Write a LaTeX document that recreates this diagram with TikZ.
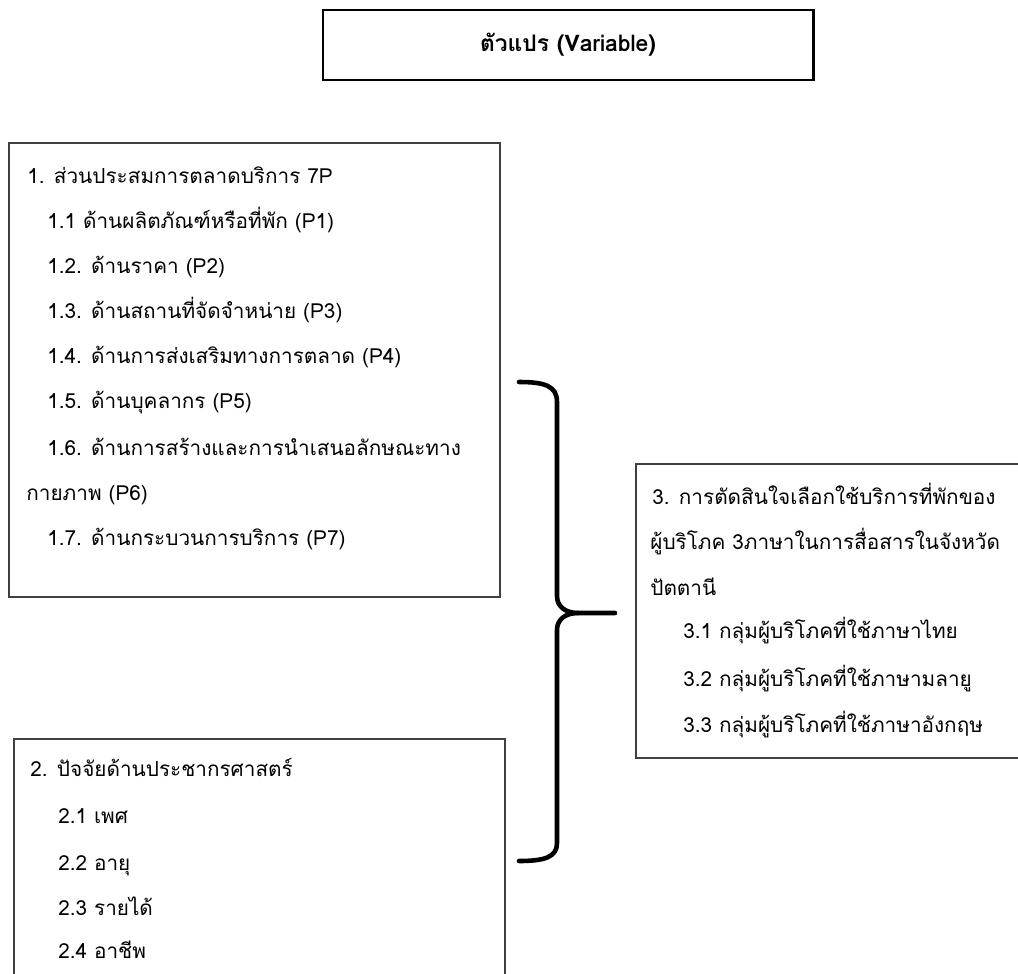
\documentclass[tikz,border=0pt]{standalone}
\usepackage{fontspec}
\setmainfont[Script=Thai]{Loma}
\begin{document}
\begin{tikzpicture}[x=0.02cm,y=-0.02cm,
  frame/.style={draw=black!75,line width=1pt},
  item/.style={anchor=base west,inner sep=0pt,font=\fontsize{11.8}{14}\selectfont},
  brace/.style={line width=2.6pt,line cap=round,line join=round}]
\clip (0,0) rectangle (1018,974);
% title
\draw[line width=1.7pt] (323,10) rectangle (813,80);
\draw (568,45) node[font=\bfseries\fontsize{13}{15}\selectfont] (title) {ตัวแปร (Variable)};
% box 1
\draw[frame] (9,143) rectangle (500,597);
\draw (27,183) node[item] (p0) {1. ส่วนประสมการตลาดบริการ 7P};
\draw (47,228) node[item] (p1) {1.1 ด้านผลิตภัณฑ์หรือที่พัก (P1)};
\draw (47,273) node[item] (p2) {1.2. ด้านราคา (P2)};
\draw (47,318) node[item] (p3) {1.3. ด้านสถานที่จัดจำหน่าย (P3)};
\draw (47,363) node[item] (p4) {1.4. ด้านการส่งเสริมทางการตลาด (P4)};
\draw (47,408) node[item] (p5) {1.5. ด้านบุคลากร (P5)};
\draw (47,455) node[item] (p6) {1.6. ด้านการสร้างและการนำเสนอลักษณะทาง};
\draw (26,500) node[item] (p6b) {กายภาพ (P6)};
\draw (47,545) node[item] (p7) {1.7. ด้านกระบวนการบริการ (P7)};
% box 2
\draw[frame] (14,739) rectangle (505,990);
\draw (30,776) node[item] (d0) {2. ปัจจัยด้านประชากรศาสตร์};
\draw (58,823) node[item] (d1) {2.1 เพศ};
\draw (58,870) node[item] (d2) {2.2 อายุ};
\draw (58,915) node[item] (d3) {2.3 รายได้};
\draw (58,958) node[item] (d4) {2.4 อาชีพ};
% box 3
\draw[frame] (636,464) rectangle (1030,758);
\draw (652,504) node[item] (c0) {3. การตัดสินใจเลือกใช้บริการที่พักของ};
\draw (650,549) node[item] (c0b) {ผู้บริโภค 3ภาษาในการสื่อสารในจังหวัด};
\draw (650,595) node[item] (c0c) {ปัตตานี};
\draw (683,638) node[item] (c1) {3.1 กลุ่มผู้บริโภคที่ใช้ภาษาไทย};
\draw (683,686) node[item] (c2) {3.2 กลุ่มผู้บริโภคที่ใช้ภาษามลายู};
\draw (683,732) node[item] (c3) {3.3 กลุ่มผู้บริโภคที่ใช้ภาษาอังกฤษ};
% brace
\coordinate (tip) at (578,613);
\coordinate (end) at (615,613);
\draw[brace] (519,382) .. controls (545,382) and (557,386) .. (557,402) -- (557,596) .. controls (557,607) and (566,613) .. (tip) -- (end);
\draw[brace] (tip) .. controls (566,613) and (557,619) .. (557,630) -- (557,843) .. controls (557,857) and (545,861) .. (519,861);
\end{tikzpicture}
\end{document}
